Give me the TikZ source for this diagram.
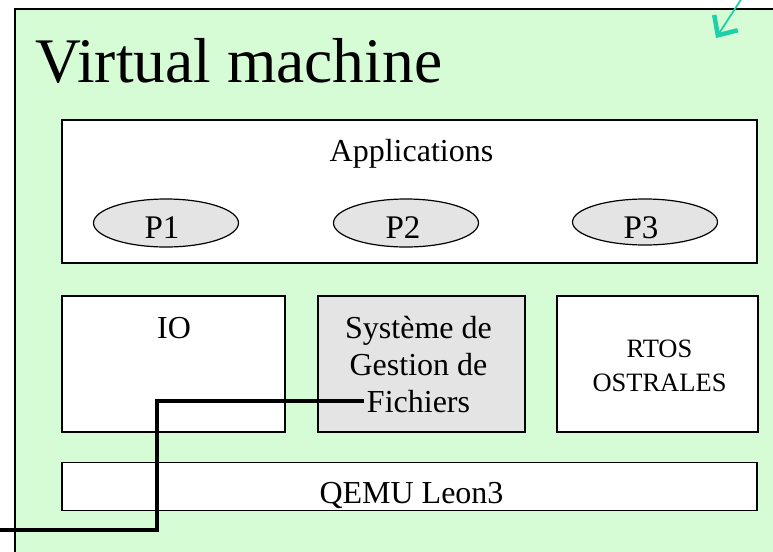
\documentclass[tikz,border=0pt]{standalone}
\usepackage{fontspec}
\setmainfont{Liberation Serif}
\usetikzlibrary{arrows.meta,shapes.geometric}
\definecolor{vmgreen}{RGB}{213,252,213}
\definecolor{boxgray}{RGB}{228,228,228}
\definecolor{teal2}{RGB}{30,208,168}
\tikzset{
  box/.style={draw=black, line width=1.6pt, fill=white, rectangle, inner sep=0pt},
  graybox/.style={box, fill=boxgray},
  proc/.style={draw=black, line width=1.2pt, fill=boxgray, ellipse, inner sep=0pt},
  lbl/.style={anchor=base, inner sep=0pt, font=\fontsize{32}{32}\selectfont},
  plbl/.style={anchor=base, inner sep=0pt, font=\fontsize{33}{33}\selectfont},
  small/.style={anchor=base, inner sep=0pt, font=\fontsize{26.5}{26.5}\selectfont},
  wire/.style={draw=black, line width=4.5pt},
  pointer/.style={draw=teal2, line width=1.8pt, -{Straight Barb[length=15pt,width=28pt,line width=4.5pt]}}
}
\begin{document}
\begin{tikzpicture}[x=1pt,y=-1pt]
\useasboundingbox (0,0) rectangle (773,551);
% virtual machine frame
\node[draw=black, line width=1.8pt, fill=vmgreen, rectangle, inner sep=0pt,
      minimum width=800pt, minimum height=580pt, anchor=north west] (vm) at (14,8) {};
\node[anchor=base west, inner sep=0pt, font=\fontsize{63.5}{63.5}\selectfont] (title) at (35,82) {Virtual machine};
% applications
\node[box, minimum width=695pt, minimum height=143pt] (apps) at (409.5,191.5) {};
\node[lbl] (appst) at (411.5,161) {Applications};
\node[proc, minimum width=145pt, minimum height=48pt] (p1) at (166,223) {};
\node[proc, minimum width=145pt, minimum height=48pt] (p2) at (406,223) {};
\node[proc, minimum width=145pt, minimum height=46pt] (p3) at (645,222) {};
\node[plbl] (p1t) at (162,238) {P1};
\node[plbl] (p2t) at (403,238) {P2};
\node[plbl] (p3t) at (641,238) {P3};
% middle row
\node[box, minimum width=223pt, minimum height=136pt] (io) at (173.5,364) {};
\node[lbl] (iot) at (174,338) {IO};
\node[graybox, minimum width=207pt, minimum height=136pt] (sgf) at (421.5,364) {};
\node[lbl] (sgf1) at (418.5,338) {Système de};
\node[lbl] (sgf2) at (418.5,375) {Gestion de};
\node[lbl] (sgf3) at (418.5,412) {Fichiers};
\node[box, minimum width=201pt, minimum height=136pt] (rtos) at (657.5,364) {};
\node[small] (rtos1) at (659.5,357) {RTOS};
\node[small] (rtos2) at (659.5,391) {OSTRALES};
% qemu
\node[box, minimum width=695pt, minimum height=48pt] (qemu) at (409.5,486.5) {};
\node[lbl] (qemut) at (411.5,503) {QEMU Leon3};
% black wire
\coordinate (src) at (0,530);
\coordinate (fend) at (364,401);
\draw[wire] (src) -- ++(157,0) |- (fend);
% teal pointer
\coordinate (ptail) at (742,-2);
\coordinate (phead) at (716,38);
\draw[pointer] (ptail) -- (phead);
\end{tikzpicture}
\end{document}
